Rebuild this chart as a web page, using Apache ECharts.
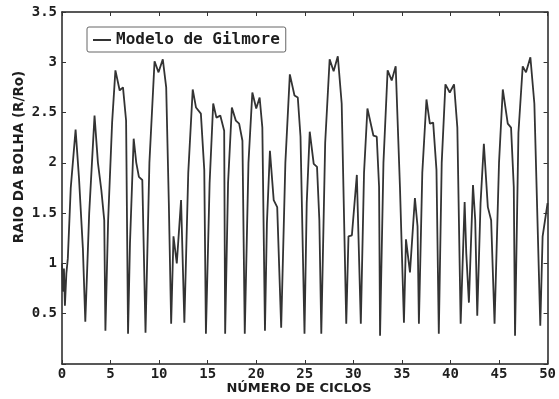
<!DOCTYPE html>
<html>
<head>
<meta charset="utf-8">
<script src="https://cdn.jsdelivr.net/npm/echarts@6/dist/echarts.min.js"></script>
<style>
html,body{margin:0;padding:0;background:#fff;}
#chart{width:559px;height:399px;}
</style>
</head>
<body>
<div id="chart"></div>
<script>
// Data
var seriesName = 'Modelo de Gilmore';
var cycles = [
  0, 0.1, 0.2, 0.3, 0.45, 0.6, 0.9, 1.4, 1.75, 2.15, 2.4,
  2.8, 3.35, 3.7, 4.05, 4.35, 4.47,
  4.75, 5.16, 5.5, 5.94, 6.28, 6.6, 6.8,
  7.0, 7.38, 7.65, 7.92, 8.27, 8.6,
  9.0, 9.53, 9.94, 10.38, 10.73, 11.0, 11.24,
  11.48, 11.82, 12.26, 12.6,
  13.0, 13.46, 13.8, 14.3, 14.65, 14.82,
  15.2, 15.57, 15.9, 16.3, 16.7, 16.8,
  17.1, 17.49, 17.9, 18.24, 18.58, 18.82,
  19.2, 19.6, 20.0, 20.35, 20.63, 20.9,
  21.1, 21.41, 21.8, 22.16, 22.57,
  23.0, 23.46, 23.94, 24.28, 24.56, 24.97,
  25.2, 25.51, 25.92, 26.26, 26.5, 26.7,
  27.1, 27.56, 27.97, 28.4, 28.8, 29.27,
  29.5, 29.85, 30.36, 30.77,
  31.1, 31.45, 32.07, 32.41, 32.65, 32.75,
  33.1, 33.53, 33.95, 34.36, 34.8, 35.21,
  35.42, 35.83, 36.34, 36.61, 36.75,
  37.1, 37.53, 37.88, 38.22, 38.56, 38.8,
  39.1, 39.48, 39.93, 40.37, 40.71, 41.05,
  41.46, 41.63, 41.9, 42.32, 42.55, 42.76,
  43.1, 43.44, 43.85, 44.19, 44.54,
  45.0, 45.39, 45.9, 46.24, 46.52, 46.65,
  47.0, 47.44, 47.78, 48.23, 48.64, 49.25,
  49.49, 50.0
];
var radius = [
  1.0, 0.72, 0.95, 0.58, 0.9, 1.05, 1.75, 2.33, 1.85, 1.15, 0.42,
  1.5, 2.47, 2.0, 1.73, 1.43, 0.33,
  1.43, 2.4, 2.92, 2.72, 2.75, 2.42, 0.30,
  1.2, 2.24, 2.0, 1.86, 1.83, 0.31,
  2.0, 3.01, 2.90, 3.03, 2.75, 1.6, 0.40,
  1.27, 1.0, 1.63, 0.41,
  1.9, 2.73, 2.55, 2.49, 1.93, 0.30,
  1.8, 2.59, 2.45, 2.47, 2.32, 0.30,
  1.8, 2.55, 2.42, 2.39, 2.22, 0.30,
  2.0, 2.70, 2.54, 2.65, 2.35, 0.33,
  1.4, 2.12, 1.63, 1.56, 0.36,
  2.0, 2.88, 2.67, 2.65, 2.26, 0.30,
  1.6, 2.31, 1.99, 1.96, 1.43, 0.30,
  2.2, 3.03, 2.91, 3.06, 2.59, 0.40,
  1.27, 1.28, 1.88, 0.40,
  1.9, 2.54, 2.27, 2.26, 1.76, 0.28,
  2.0, 2.92, 2.82, 2.96, 1.76, 0.41,
  1.24, 0.91, 1.65, 1.37, 0.40,
  1.9, 2.63, 2.39, 2.40, 1.93, 0.30,
  2.0, 2.78, 2.70, 2.78, 2.35, 0.40,
  1.61, 1.10, 0.61, 1.78, 1.43, 0.48,
  1.6, 2.19, 1.56, 1.43, 0.40,
  2.0, 2.73, 2.39, 2.35, 1.76, 0.28,
  2.3, 2.96, 2.90, 3.05, 2.59, 0.38,
  1.27, 1.6
];
var xTitle = 'NÚMERO DE CICLOS';
var yTitle = 'RAIO DA BOLHA (R/Ro)';

var points = cycles.map(function (c, i) { return [c, radius[i]]; });

var chart = echarts.init(document.getElementById('chart'), null, {renderer: 'canvas'});
var txt = '#1e1e1e';
var mono = '"DejaVu Sans Mono", monospace';
function axisCommon() {
  return {
    axisLine: {show: true, onZero: false, lineStyle: {color: '#222', width: 1.5}},
    axisTick: {show: true, inside: true, length: 4, lineStyle: {color: '#333'}},
    splitLine: {show: false}
  };
}
chart.setOption({
  animation: false,
  backgroundColor: '#fff',
  grid: {left: 62, right: 7, top: 12, bottom: 35, containLabel: false},
  legend: {
    show: true,
    left: 87, top: 27,
    padding: [5, 6, 4, 6],
    borderColor: '#666', borderWidth: 1, borderRadius: 2,
    backgroundColor: '#fff',
    itemWidth: 18, itemHeight: 2, itemGap: 6,
    icon: 'rect',
    textStyle: {fontFamily: mono, fontWeight: 'bold', fontSize: 16, color: txt, padding: [3, 0, 3, 0]},
    data: [seriesName]
  },
  xAxis: [
    Object.assign({
      type: 'value', min: 0, max: 50, interval: 5, position: 'bottom',
      axisLabel: {show: true, margin: 3, fontFamily: mono, fontWeight: 'bold', fontSize: 14, color: txt}
    }, axisCommon()),
    Object.assign({
      type: 'value', min: 0, max: 50, interval: 5, position: 'top',
      axisLabel: {show: false}
    }, axisCommon())
  ],
  yAxis: [
    Object.assign({
      type: 'value', min: 0, max: 3.5, interval: 0.5, position: 'left',
      axisLabel: {show: true, margin: 5, fontFamily: mono, fontWeight: 'bold', fontSize: 14, color: txt,
        formatter: function (v) { return v === 0 ? '' : String(v); }}
    }, axisCommon()),
    Object.assign({
      type: 'value', min: 0, max: 3.5, interval: 0.5, position: 'right',
      axisLabel: {show: false}
    }, axisCommon())
  ],
  graphic: [
    {
      type: 'text', x: 299, y: 389,
      style: {text: xTitle, fill: txt, font: 'bold 13px "DejaVu Sans", sans-serif', textAlign: 'center', textVerticalAlign: 'middle'}
    },
    {
      type: 'text', x: 19, y: 157, rotation: Math.PI / 2,
      style: {text: yTitle, fill: txt, font: 'bold 13.5px "DejaVu Sans", sans-serif', textAlign: 'center', textVerticalAlign: 'middle'}
    }
  ],
  series: [{
    name: seriesName,
    type: 'line',
    data: points,
    showSymbol: false,
    symbol: 'none',
    lineStyle: {color: '#333', width: 1.8},
    itemStyle: {color: '#333'}
  }]
});
</script>
</body>
</html>
